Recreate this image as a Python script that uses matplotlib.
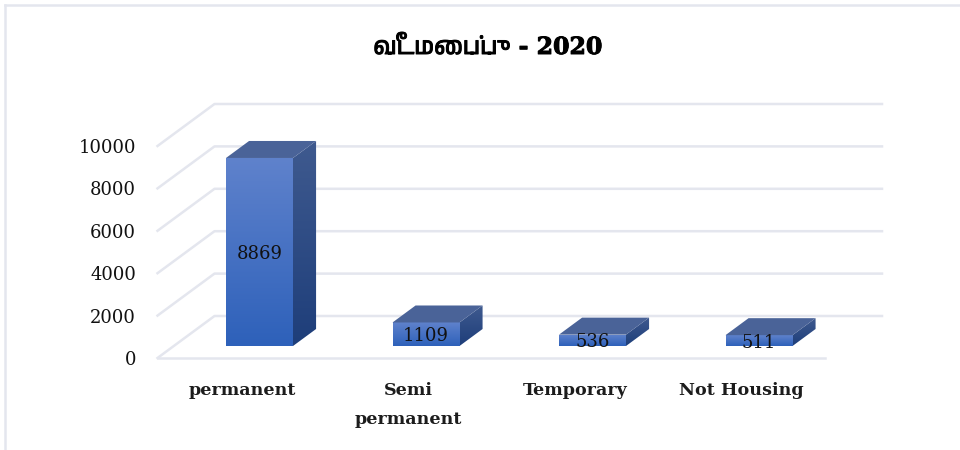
import numpy as np
import matplotlib
matplotlib.use("Agg")
import matplotlib.pyplot as plt
import matplotlib.patheffects as pe
from matplotlib import font_manager
from matplotlib.colors import to_rgb
from matplotlib.lines import Line2D
from matplotlib.patches import Polygon

title = "வீடமைப்பு - 2020"
categories = ["permanent", "Semi\npermanent", "Temporary", "Not Housing"]
values = [8869, 1109, 536, 511]
yticks = [0, 2000, 4000, 6000, 8000, 10000]

# look for anything that can draw tamil, digits stay on the serif
tamil_fonts = []
for f in font_manager.fontManager.ttflist:
    try:
        if 0x0BB5 in font_manager.get_font(f.fname).get_charmap():
            tamil_fonts.append(f.name)
    except Exception:
        pass
title_family = ["DejaVu Serif"] + sorted(set(tamil_fonts))[:1]

# scales: one category step and one value unit in pixels
step_px = 166.5
unit_px = 0.0212
base_px = 346
center_px = 259.5

fig = plt.figure(figsize=(9.6, 4.5), dpi=100)
ax = fig.add_axes([0, 0, 1, 1])
xlim = (-center_px / step_px, (960 - center_px) / step_px)
ylim = (-(450 - base_px) / unit_px, base_px / unit_px)
ax.axis("off")


def px_x(p):
    return p / step_px


def px_y(p):
    return p / unit_px


# depth of the floor, and where the bars sit in it
depth_x, depth_y = px_x(57), px_y(42)
front = -12 / 42
floor_end = (825 - center_px) / step_px
wall_start = (157.5 - center_px) / step_px
grid_color = "#e4e6ee"
text_color = "#111111"


def to_plane(cat, val, d):
    # d=0 is the front of the floor, d=1 the back wall
    return cat + depth_x * d, val + depth_y * (d + front)


for v in yticks:
    p0 = to_plane(wall_start, v, 0)
    p1 = to_plane(wall_start, v, 1)
    p2 = to_plane(floor_end, v, 1)
    ax.plot([p0[0], p1[0], p2[0]], [p0[1], p1[1], p2[1]], color=grid_color, lw=1.8, zorder=1)
    ax.text(p0[0] - px_x(21.5), p0[1], str(v), ha="right", va="center_baseline",
            family="DejaVu Serif", fontsize=13, color=text_color)
p0 = to_plane(wall_start, 0, 0)
p1 = to_plane(floor_end, 0, 0)
ax.plot([p0[0], p1[0]], [p0[1], p1[1]], color=grid_color, lw=1.8, zorder=1)

width = 67 / step_px
bar_depth = 17 / 42
bar_x = np.arange(len(values))


def gradient(shape, x0, x1, y0, y1, top, bottom, zorder):
    t = np.linspace(0, 1, 64)[:, None, None]
    colors = np.array(to_rgb(top))[None, None, :] * (1 - t) + np.array(to_rgb(bottom))[None, None, :] * t
    im = ax.imshow(colors, extent=[x0, x1, y0, y1], aspect="auto",
                   interpolation="bilinear", zorder=zorder)
    im.set_clip_path(shape)


bars = ax.bar(bar_x, values, width, color="none", edgecolor="none", zorder=3)
for x, v, b in zip(bar_x, values, bars):
    left, right = x - width / 2, x + width / 2
    dx, dy = depth_x * bar_depth, depth_y * bar_depth
    gradient(b, left, right, 0, v, "#5f82cc", "#2e61ba", 3)

    side = Polygon([(right, 0), (right + dx, dy), (right + dx, v + dy), (right, v)],
                   closed=True, facecolor="none", edgecolor="none", zorder=3)
    ax.add_patch(side)
    gradient(side, right, right + dx, 0, v + dy, "#3f5a8f", "#1e3e7a", 3)

    ax.add_patch(Polygon([(left, v), (right, v), (right + dx, v + dy), (left + dx, v + dy)],
                         closed=True, facecolor="#4a6398", edgecolor="none", zorder=3))
    ax.text(x, v / 2, str(v), ha="center", va="center_baseline", family="DejaVu Serif",
            fontsize=13, color=text_color, zorder=5)

# category labels, one text per line so the line gap can be set directly
for x, name in zip(bar_x, categories):
    for i, line in enumerate(name.split("\n")):
        ax.text(x - px_x(17.5), -px_y(395 + i * 29 - base_px), line, ha="center", va="baseline",
                family="DejaVu Serif", fontweight="bold", fontsize=12.6, color="#1c1c1c")

ax.set_xlim(xlim)
ax.set_ylim(ylim)

fig.text(488 / 960, 1 - 47 / 450, title, ha="center", va="center",
         family=title_family, fontweight="bold", fontsize=17, color="black",
         path_effects=[pe.withStroke(linewidth=0.7, foreground="black")])

# faint frame of the pasted picture, top and left only
fig.add_artist(Line2D([5 / 960, 1], [1 - 5 / 450, 1 - 5 / 450], color=grid_color, lw=1.8))
fig.add_artist(Line2D([5 / 960, 5 / 960], [0, 1 - 5 / 450], color=grid_color, lw=1.8))

fig.savefig("out.png", dpi=100)
